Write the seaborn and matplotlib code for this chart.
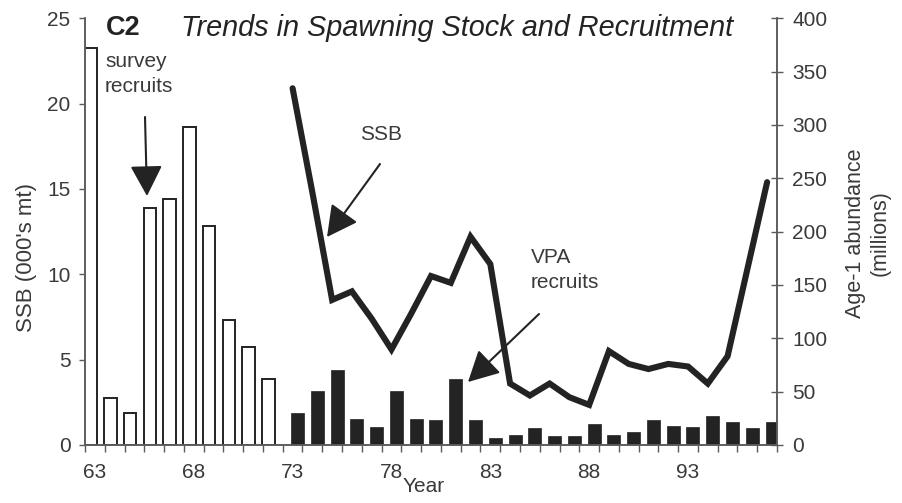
import numpy as np
import pandas as pd
import matplotlib
matplotlib.use("Agg")
import matplotlib.pyplot as plt
import seaborn as sns

# ---- data ----
survey_years = [63, 64, 65, 66, 67, 68, 69, 70, 71, 72]
survey_recruits = [372, 44, 30, 222, 231, 298, 205, 117, 92, 62]

vpa_years = list(range(73, 98))
vpa_recruits = [30, 51, 70, 24, 17, 51, 24, 23, 62, 23, 7, 9, 16, 8, 8,
                20, 9, 12, 23, 18, 17, 27, 22, 16, 22]

ssb_years = list(range(73, 98))
ssb = [20.9, 14.8, 8.5, 9.0, 7.4, 5.6, 7.7, 9.9, 9.5, 12.2, 10.6, 3.6, 2.9,
       3.6, 2.8, 2.35, 5.5, 4.75, 4.45, 4.75, 4.6, 3.6, 5.2, 10.3, 15.4]

xtick_years = [63, 68, 73, 78, 83, 88, 93]
left_ticks = [0, 5, 10, 15, 20, 25]
right_ticks = [0, 50, 100, 150, 200, 250, 300, 350, 400]

# ---- style ----
sns.set_theme(style="ticks")
plt.rcParams['font.family'] = ['Liberation Sans', 'DejaVu Sans']
TXT = "#3a3a3a"
INK = "#232323"
AX = "#5a5a5a"

W, H = 903, 503
fig = plt.figure(figsize=(W / 100, H / 100), dpi=100)
L, R, T, B = 85, 777, 18.3, 445
ax = fig.add_axes([L / W, 1 - B / H, (R - L) / W, (B - T) / H])
ax2 = ax.twinx()

def P(x, y):
    return (x / W, 1 - y / H)

# bars on the right (recruits) axis
df_s = pd.DataFrame({"x": np.array(survey_years) - 0.22, "v": survey_recruits})
df_v = pd.DataFrame({"x": np.array(vpa_years) + 0.25, "v": vpa_recruits})
sns.barplot(data=df_s, x="x", y="v", native_scale=True, orient="x", width=0.64,
            color="white", edgecolor=INK, linewidth=1.4, saturation=1, ax=ax2)
sns.barplot(data=df_v, x="x", y="v", native_scale=True, orient="x", width=0.66,
            color=INK, edgecolor=INK, linewidth=0.5, saturation=1, ax=ax2)

# SSB line on the left axis
sns.lineplot(x=ssb_years, y=ssb, ax=ax, color=INK, linewidth=4.4,
             solid_joinstyle="miter", solid_capstyle="round")

ax.set_zorder(ax2.get_zorder() + 1)
ax.patch.set_visible(False)

ax.set_ylim(0, 25)
ax2.set_ylim(0, 400)
ax.set_xlim(62.5, 97.5)
ax2.set_xlim(62.5, 97.5)

ax.set_yticks(left_ticks)
ax.set_yticklabels([str(v) for v in left_ticks])
ax2.set_yticks(right_ticks)
ax2.set_yticklabels([str(v) for v in right_ticks])

ax.set_xticks(np.arange(62.5, 97.6, 1.0))
ax.set_xticklabels([])
ax.set_xticks(xtick_years, [str(v) for v in xtick_years], minor=True)

ax.tick_params(axis="x", which="major", direction="out", length=5, width=1, color=AX)
ax.tick_params(axis="x", which="minor", length=0, pad=13, labelsize=15, labelcolor=TXT)
ax.tick_params(axis="y", direction="out", length=4.5, width=1, color=AX, pad=6,
               labelsize=15, labelcolor=TXT)
ax2.tick_params(axis="y", direction="inout", length=8, width=1, color=AX, pad=7,
                labelsize=15, labelcolor=TXT)

for a in (ax, ax2):
    a.spines["top"].set_visible(False)
    for s in ("left", "right", "bottom"):
        a.spines[s].set_color(AX)
        a.spines[s].set_linewidth(1.1)
    a.set_xlabel("")
    a.set_ylabel("")
    a.grid(False)

# axis titles
fig.text(*P(27, 257), "SSB (000's mt)", rotation=90, ha="center", va="center",
         fontsize=16, color=TXT)
fig.text(*P(868, 233), "Age-1 abundance\n(millions)", rotation=90, ha="center",
         va="center", fontsize=15.5, color=TXT, multialignment="center",
         linespacing=1.25)
fig.text(*P(424, 487), "Year", ha="center", va="center", fontsize=15, color=TXT)

# header
fig.text(*P(106, 28), "C2", ha="left", va="center", fontsize=19.5,
         fontweight="bold", color=INK)
fig.text(*P(181, 28), "Trends in Spawning Stock and Recruitment", ha="left",
         va="center", fontsize=20.8, fontstyle="italic", color=INK)

# annotations
fig.text(*P(105, 74), "survey\nrecruits", ha="left", va="center", fontsize=15,
         color=TXT, linespacing=1.4)
fig.text(*P(381, 135), "SSB", ha="center", va="center", fontsize=15, color=TXT)
fig.text(*P(531, 270), "VPA\nrecruits", ha="left", va="center", fontsize=15,
         color=TXT, linespacing=1.4)

arrow = dict(arrowstyle="-|>,head_length=0.95,head_width=0.5", mutation_scale=20,
             color=INK, lw=1.5, shrinkA=0, shrinkB=0)
for start, tip in [((145, 117), (147, 196)), ((380, 164), (327, 237)),
                   ((539, 314), (468, 382))]:
    fig.add_artist(matplotlib.patches.FancyArrowPatch(
        P(*start), P(*tip), transform=fig.transFigure, **arrow))

fig.savefig("out.png", dpi=100)
